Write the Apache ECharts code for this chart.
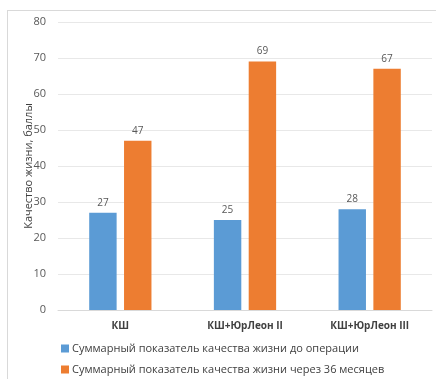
<!DOCTYPE html>
<html><head><meta charset="utf-8">
<script src="https://cdn.jsdelivr.net/npm/echarts@6/dist/echarts.min.js"></script>
<style>
html,body{margin:0;padding:0;background:#fff;}
#c{width:436px;height:379px;position:relative;}
#frame{position:absolute;left:7px;top:10px;width:440px;height:380px;border-top:1px solid #d9d9d9;border-left:1px solid #d9d9d9;pointer-events:none;}
</style></head>
<body>
<div id="c"></div><div id="frame"></div>
<script>
const categories = ['КШ', 'КШ+ЮрЛеон II', 'КШ+ЮрЛеон III'];
const seriesNames = ['Суммарный показатель качества жизни до операции', 'Суммарный показатель качества жизни через 36 месяцев'];
const before = [27, 25, 28];
const after36 = [47, 69, 67];
const yTicks = {min: 0, max: 80, interval: 10};
const yName = 'Качество жизни, баллы';

const chart = echarts.init(document.getElementById('c'), null, {renderer: 'canvas'});
const font = '"Open Sans", sans-serif';
chart.setOption({
  animation: false,
  textStyle: {fontFamily: font},
  grid: {left: 58, right: 4, top: 22, bottom: 69},
  legend: {
    orient: 'vertical', left: 56, top: 338, height: 60, itemGap: 10,
    itemWidth: 8, itemHeight: 8, icon: 'rect',
    textStyle: {fontSize: 11, color: '#404040', fontFamily: font, padding: [0,0,0,-2]},
    data: seriesNames
  },
  xAxis: {
    type: 'category', data: categories,
    axisLine: {lineStyle: {color: '#d9d9d9'}},
    axisTick: {show: false},
    axisLabel: {fontSize: 10, fontWeight: 'bold', color: '#404040', margin: 11, fontFamily: font}
  },
  yAxis: {
    type: 'value', min: yTicks.min, max: yTicks.max, interval: yTicks.interval,
    name: yName, nameLocation: 'middle', nameGap: 24, nameRotate: 90, nameMoveOverlap: false,
    nameTextStyle: {fontSize: 11, color: '#404040', fontFamily: font},
    axisLine: {show: false}, axisTick: {show: false},
    axisLabel: {fontSize: 11, color: '#595959', margin: 12, fontFamily: font},
    splitLine: {lineStyle: {color: '#e8e8e8'}}
  },
  series: [
    {name: seriesNames[0], type: 'bar', data: before, barWidth: '22%', barGap: '27%',
     itemStyle: {color: '#5b9bd5'},
     label: {show: true, position: 'top', fontSize: 10, color: '#595959', distance: 5, fontFamily: font}},
    {name: seriesNames[1], type: 'bar', data: after36, barWidth: '22%',
     itemStyle: {color: '#ed7d31'},
     label: {show: true, position: 'top', fontSize: 10, color: '#595959', distance: 5, fontFamily: font}}
  ]
});
</script>
</body></html>
